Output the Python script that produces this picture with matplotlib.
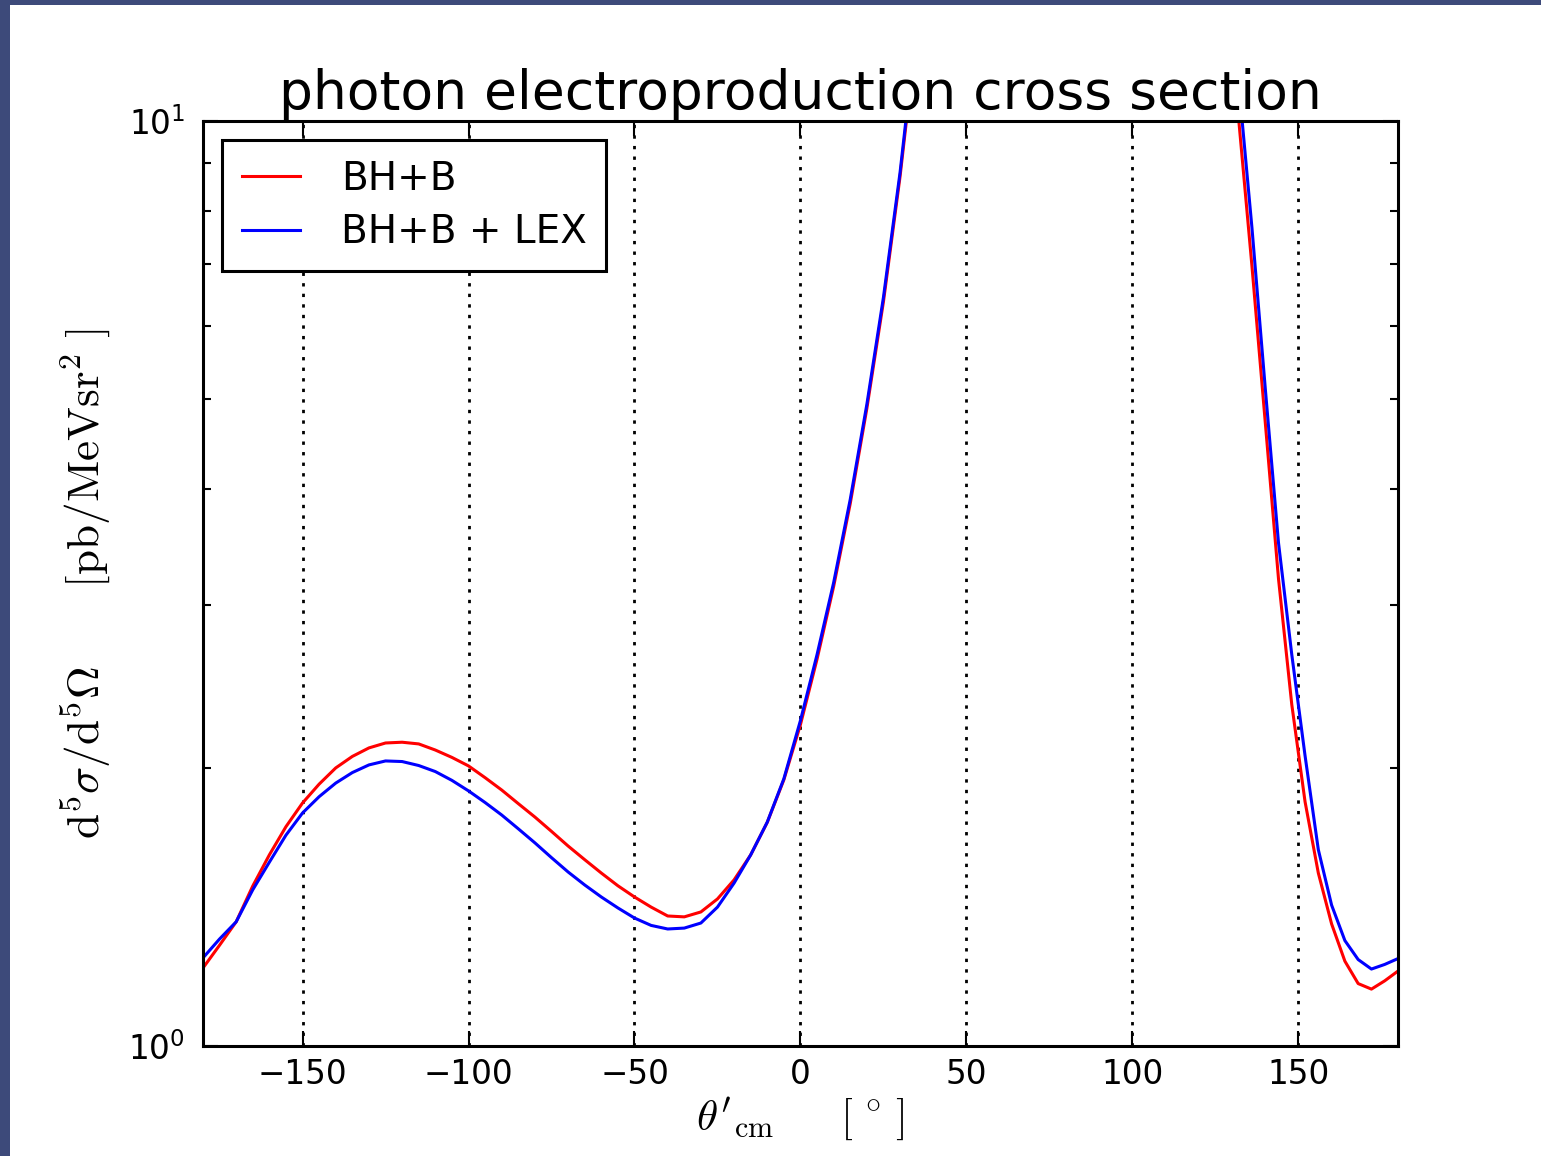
import matplotlib
matplotlib.use("Agg")
import matplotlib.pyplot as plt
from matplotlib.patches import Rectangle
from matplotlib.ticker import NullFormatter, LogLocator

plt.rcParams['mathtext.fontset'] = 'cm'

# angle theta'_cm in degrees (curve leaves the plot above 10 between ~33 and ~132)
theta = [-180, -175, -170, -165, -160, -155, -150, -145, -140, -135,
         -130, -125, -120, -115, -110, -105, -100, -95, -90, -85,
         -80, -75, -70, -65, -60, -55, -50, -45, -40, -35,
         -30, -25, -20, -15, -10, -5, 0, 5, 10, 15,
         20, 25, 30, 35,
         128, 132, 136, 140, 144, 148, 152, 156, 160, 164,
         168, 172, 176, 180]

bh_b = [1.214, 1.285, 1.362, 1.489, 1.609, 1.726, 1.831, 1.919, 1.998, 2.056,
        2.100, 2.126, 2.130, 2.121, 2.089, 2.051, 2.008, 1.950, 1.891, 1.828,
        1.768, 1.706, 1.645, 1.590, 1.538, 1.490, 1.449, 1.413, 1.382, 1.379,
        1.396, 1.442, 1.512, 1.609, 1.745, 1.940, 2.226, 2.620, 3.140, 3.860,
        4.890, 6.380, 8.710, 12.50,
        14.80, 10.05, 6.970, 4.730, 3.200, 2.340, 1.837, 1.538, 1.355, 1.235,
        1.168, 1.152, 1.176, 1.205]

bh_b_lex = [1.245, 1.305, 1.362, 1.475, 1.580, 1.690, 1.786, 1.860, 1.924, 1.975,
            2.013, 2.033, 2.030, 2.010, 1.980, 1.937, 1.887, 1.833, 1.777, 1.717,
            1.658, 1.598, 1.542, 1.493, 1.449, 1.410, 1.375, 1.350, 1.338, 1.341,
            1.358, 1.413, 1.500, 1.609, 1.746, 1.945, 2.249, 2.650, 3.170, 3.900,
            4.940, 6.450, 8.800, 12.70,
            16.20, 11.00, 7.670, 5.150, 3.500, 2.650, 2.060, 1.630, 1.420, 1.300,
            1.240, 1.211, 1.225, 1.243]

x_ticks = [-150, -100, -50, 0, 50, 100, 150]

fig = plt.figure(figsize=(15.41, 11.56), dpi=100, facecolor='#3d4a7a')
fig.add_artist(Rectangle((10 / 1541, 0), 1, 1 - 5 / 1156, transform=fig.transFigure,
                         facecolor='white', edgecolor='none', zorder=0))
ax = fig.add_axes([0.1317, 0.0952, 0.7755, 0.8001])

ax.plot(theta, bh_b, color='#ff0000', lw=2.2, label='BH+B')
ax.plot(theta, bh_b_lex, color='#0000ff', lw=2.2, label='BH+B + LEX')

ax.set_yscale('log')
ax.set_xlim(-180, 180)
ax.set_ylim(1, 10)
ax.set_xticks(x_ticks)
ax.yaxis.set_minor_locator(LogLocator(base=10, subs=range(2, 10)))
ax.yaxis.set_minor_formatter(NullFormatter())

ax.grid(axis='x', color='k', linestyle=(0, (1.2, 2.6)), linewidth=2)
ax.tick_params(which='both', direction='in', top=True, right=True, labelsize=23.5)
ax.tick_params(which='major', length=11, width=1.5, pad=9)
ax.tick_params(axis='y', which='major', pad=13)
ax.tick_params(which='minor', length=5.5, width=1.5)
ax.tick_params(axis='x', which='minor', top=False, bottom=False)
for sp in ax.spines.values():
    sp.set_linewidth(2.2)

ax.set_title('photon electroproduction cross section', fontsize=38.5, pad=9)
ax.set_ylabel(r'$\mathrm{d^5}\sigma/\mathrm{d^5}\Omega\quad\quad[\mathrm{pb/MeV sr^2\ }]$',
              fontsize=32.5)
ax.yaxis.set_label_coords(-0.076, 0.5)
ax.set_xlabel(r"$\theta'_{\mathrm{cm}}\quad\;\;\,[\,^\circ\,]$", fontsize=31)
ax.xaxis.set_label_coords(0.5, -0.053)

leg = ax.legend(loc='upper left', fontsize=28, fancybox=False, framealpha=1,
                edgecolor='k', handlelength=1.5, handletextpad=1.05,
                borderpad=0.5, labelspacing=0.4)
leg.get_frame().set_linewidth(2.2)

fig.savefig('out.png', dpi=100, facecolor=fig.get_facecolor())
